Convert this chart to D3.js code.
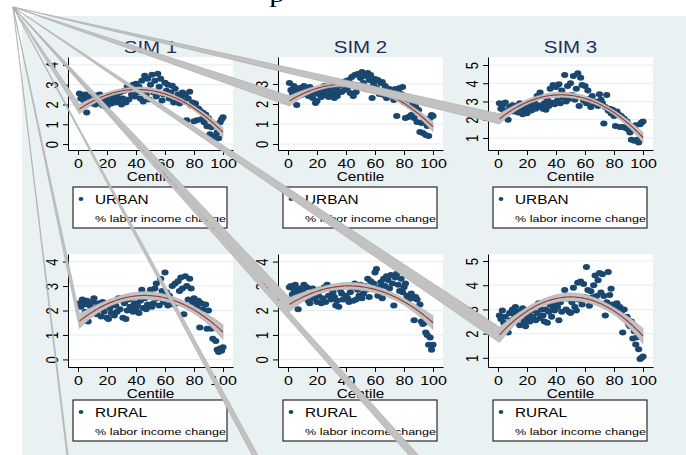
<!DOCTYPE html>
<html>
<head>
<meta charset="utf-8">
<script src="https://cdn.jsdelivr.net/npm/d3@7"></script>
<style>
  html, body { margin: 0; padding: 0; background: #fff; }
  svg { display: block; font-family: "Liberation Sans", Arial, sans-serif; }
</style>
</head>
<body>
<div id="chart"></div>
<script>
// ---- data ----
const centiles = d3.range(1, 101);
const simTitles = ["SIM 1", "SIM 2", "SIM 3"];
const groups = ["URBAN", "RURAL"];
const legendNote = "% labor income change";
const xTicks = [0, 20, 40, 60, 80, 100];
const urbanYTicks = [[0, 1, 2, 3, 4], [0, 1, 2, 3], [1, 2, 3, 4, 5]];
const ruralYTicks = [[0, 1, 2, 3, 4], [0, 1, 2, 3, 4], [1, 2, 3, 4, 5]];

const urbanSim1 = [
  2.55, 2.3, 2.45, 2.2, 2.5, 1.6, 2.35, 2.1, 2.4, 2.05,
  2.3, 2.0, 2.45, 2.15, 2.5, 2.2, 1.95, 2.35, 2.1, 1.9,
  2.2, 2.4, 2.05, 2.3, 2.5, 2.1, 2.4, 2.2, 2.6, 2.0,
  2.3, 2.7, 2.1, 2.9, 2.25, 2.8, 2.5, 3.0, 2.4, 3.05,
  2.6, 2.9, 2.3, 3.2, 2.15, 3.45, 2.5, 3.3, 2.25, 3.0,
  3.5, 2.6, 3.2, 2.4, 3.55, 2.9, 3.3, 2.2, 2.5, 3.1,
  2.7, 3.0, 2.3, 2.6, 2.95, 2.1, 2.8, 2.3, 2.5, 2.05,
  2.4, 2.6, 2.2, 2.5, 1.2, 2.3, 2.65, 1.95, 2.1, 1.15,
  2.05, 1.2, 1.8, 1.7, 1.25, 1.6, 1.1, 1.5, 0.9, 1.3,
  0.5, 0.85, 0.4, 1.0, 0.35, 0.6, 0.3, 1.1, 1.25, 1.35
];
const urbanSim2 = [
  3.05, 2.7, 2.55, 2.9, 2.75, 1.95, 2.6, 2.8, 2.45, 2.7,
  2.9, 2.5, 2.65, 2.4, 2.85, 2.6, 2.3, 2.55, 2.05, 2.15,
  2.5, 2.75, 2.35, 2.6, 2.9, 2.45, 2.7, 2.35, 2.8, 2.5,
  2.55, 2.3, 2.8, 2.4, 2.65, 2.95, 2.6, 3.1, 2.7, 3.15,
  2.8, 3.2, 2.55, 3.35, 2.4, 3.45, 2.6, 3.5, 2.9, 3.3,
  3.6, 3.05, 3.4, 2.75, 3.55, 3.2, 3.45, 2.3, 3.0, 3.25,
  2.8, 3.2, 2.5, 3.05, 3.1, 2.45, 2.9, 2.3, 2.6, 2.75,
  2.7, 2.5, 2.2, 2.75, 1.4, 2.7, 2.8, 2.5, 2.85, 2.1,
  1.3, 2.35, 1.35, 2.2, 1.45, 2.0, 1.3, 1.85, 1.1, 1.7,
  0.6, 1.05, 0.55, 1.2, 0.45, 0.9, 0.4, 1.3, 1.45, 1.4
];
const urbanSim3 = [
  2.9, 2.6, 2.8, 2.5, 2.95, 2.35, 2.0, 2.7, 2.55, 2.8,
  2.45, 2.75, 2.6, 2.4, 2.9, 2.55, 2.3, 2.7, 2.45, 2.35,
  2.6, 2.85, 2.5, 2.75, 2.95, 2.6, 3.3, 2.8, 3.5, 2.7,
  2.6, 2.9, 2.55, 3.1, 2.75, 3.7, 2.95, 3.9, 2.85, 3.8,
  3.05, 3.95, 2.9, 3.6, 3.2, 4.45, 3.0, 3.85, 3.15, 4.0,
  3.35, 4.4, 3.1, 3.7, 4.55, 2.75, 4.3, 3.9, 3.05, 3.85,
  2.9, 3.6, 3.15, 2.7, 3.3, 2.95, 3.0, 2.85, 2.75, 3.4,
  3.1, 2.9, 1.8, 2.7, 3.35, 2.5, 2.6, 2.35, 2.55, 2.2,
  1.65, 2.45, 2.3, 1.6, 2.2, 1.6, 2.05, 1.55, 1.9, 1.45,
  1.3, 0.9, 1.5, 0.85, 1.7, 0.9, 0.75, 1.75, 1.85, 1.9
];
const ruralSim1 = [
  2.3, 2.15, 2.45, 2.25, 1.95, 2.4, 1.55, 2.2, 2.0, 2.35,
  2.5, 2.1, 1.85, 2.3, 2.15, 1.75, 2.35, 1.95, 2.2, 1.7,
  1.65, 2.1, 1.9, 2.3, 1.8, 2.2, 1.95, 2.5, 2.05, 2.45,
  1.7, 2.3, 1.65, 2.0, 2.45, 2.15, 2.55, 1.95, 2.3, 2.05,
  2.2, 1.9, 2.4, 2.85, 2.1, 2.5, 2.05, 2.25, 2.6, 2.85,
  2.15, 2.3, 2.9, 3.1, 2.5, 2.2, 3.3, 2.8, 2.35, 3.55,
  2.75, 2.2, 2.6, 2.4, 3.0, 2.25, 3.1, 2.3, 3.2, 2.8,
  3.35, 2.9, 1.85, 3.4, 3.0, 2.45, 3.3, 2.9, 2.35, 2.5,
  2.3, 2.15, 2.4, 1.3, 2.3, 2.05, 1.75, 2.25, 1.25, 2.0,
  1.6, 1.25, 0.85, 1.5, 0.75, 0.4, 0.3, 0.45, 0.35, 0.5
];
const ruralSim2 = [
  2.95, 3.0, 2.65, 2.85, 3.05, 2.7, 2.05, 2.9, 2.55, 2.8,
  3.05, 2.7, 2.95, 2.4, 2.3, 2.65, 2.9, 2.5, 2.75, 2.35,
  2.6, 2.85, 2.3, 2.5, 2.95, 2.35, 3.05, 2.6, 2.9, 2.45,
  2.75, 2.55, 2.2, 2.4, 2.15, 2.85, 2.7, 2.45, 3.0, 2.6,
  2.5, 2.35, 2.75, 2.95, 2.4, 3.1, 2.45, 2.85, 2.6, 3.05,
  2.5, 2.7, 3.0, 2.85, 3.3, 2.55, 3.2, 2.9, 3.1, 3.55,
  3.7, 2.6, 2.95, 3.15, 2.5, 3.3, 3.0, 3.4, 3.25, 2.9,
  3.45, 3.1, 2.2, 3.35, 3.5, 3.05, 2.8, 3.3, 2.75, 2.95,
  3.1, 2.6, 2.45, 2.55, 2.7, 2.5, 1.6, 2.55, 2.45, 2.0,
  2.25, 1.55, 1.45, 1.5, 1.1, 1.0, 0.6, 0.9, 0.4, 0.6
];
const ruralSim3 = [
  2.75, 2.6, 2.95, 2.45, 2.7, 2.3, 2.05, 2.85, 2.55, 3.0,
  2.8, 3.1, 2.6, 2.9, 2.35, 2.75, 3.05, 2.5, 2.3, 2.65,
  2.85, 2.5, 2.95, 2.7, 3.1, 2.55, 2.85, 3.25, 2.65, 3.0,
  2.75, 2.5, 3.0, 2.45, 2.9, 3.2, 2.7, 3.05, 2.95, 3.2,
  3.1, 2.55, 3.3, 2.9, 3.5, 3.8, 3.0, 3.45, 2.9, 2.85,
  3.3, 3.9, 3.1, 2.95, 4.1, 3.4, 4.15, 3.2, 4.05, 3.5,
  4.75, 3.8, 3.15, 3.75, 3.5, 4.0, 4.4, 3.55, 4.2, 4.5,
  3.7, 4.45, 3.55, 2.75, 3.3, 4.55, 3.6, 3.85, 3.2, 3.0,
  3.1, 3.25, 2.95, 3.1, 2.9, 2.05, 3.0, 2.6, 2.7, 2.4,
  2.3, 2.5, 1.8, 2.1, 1.55, 1.85, 1.35, 0.95, 1.0, 1.05
];

const seriesByGroup = [
  [urbanSim1, urbanSim2, urbanSim3],
  [ruralSim1, ruralSim2, ruralSim3]
];
const yTicksByGroup = [urbanYTicks, ruralYTicks];

// ---- layout ----
const W = 686, H = 455;
const SX = 1.28;              // the source graph is stretched sideways
const anchor = [13, 7];       // stray vertex the ci bands were drawn from
const colAxisX = [68, 278, 488];
const plotW = 165;
const xDomain = [-6.9, 106.9];
const rows = [
  { top: 57, bottom: 150, legendTop: 187, yDomains: [[-0.3, 4.4], [-0.3, 4.35], [0.34, 5.44]] },
  { top: 254, bottom: 367, legendTop: 400, yDomains: [[-0.31, 4.31], [-0.31, 4.31], [0.62, 5.29]] }
];
const navy = "#1a476f", maroon = "#9e3a3a", bandFill = "#c2c2c2", bandEdge = "#a9a9a9";

const svg = d3.select("#chart").append("svg")
  .attr("width", W).attr("height", H);

svg.append("rect")
  .attr("x", 22).attr("y", 16)
  .attr("width", W - 22).attr("height", H - 16)
  .attr("fill", "#eaf1f3");

// caption line of the page, mostly above the frame
svg.append("text")
  .attr("transform", `translate(277,2) scale(${SX},1)`)
  .attr("text-anchor", "middle")
  .style("font-family", "'Liberation Serif', serif")
  .style("font-size", "24px")
  .text("p");

// quadratic fit with 95% ci of the mean, like qfitci
function quadFit(xs, ys) {
  const S = [[0, 0, 0], [0, 0, 0], [0, 0, 0]], b = [0, 0, 0];
  const basis = x => { const u = x / 100; return [1, u, u * u]; };
  xs.forEach((x, i) => {
    const v = basis(x);
    for (let j = 0; j < 3; j++) {
      b[j] += v[j] * ys[i];
      for (let k = 0; k < 3; k++) S[j][k] += v[j] * v[k];
    }
  });
  const [a, bb, c] = S[0], [d, e, f] = S[1], [g, h, i] = S[2];
  const det = a * (e * i - f * h) - bb * (d * i - f * g) + c * (d * h - e * g);
  const inv = [
    [(e * i - f * h) / det, -(bb * i - c * h) / det, (bb * f - c * e) / det],
    [-(d * i - f * g) / det, (a * i - c * g) / det, -(a * f - c * d) / det],
    [(d * h - e * g) / det, -(a * h - bb * g) / det, (a * e - bb * d) / det]
  ];
  const coef = inv.map(r => r[0] * b[0] + r[1] * b[1] + r[2] * b[2]);
  const predict = x => { const v = basis(x); return coef[0] * v[0] + coef[1] * v[1] + coef[2] * v[2]; };
  const sse = d3.sum(xs, (x, k) => (ys[k] - predict(x)) ** 2);
  const s2 = sse / (xs.length - 3);
  const t = 1.985;
  return xs.map(x => {
    const v = basis(x);
    let q = 0;
    for (let j = 0; j < 3; j++) for (let k = 0; k < 3; k++) q += v[j] * inv[j][k] * v[k];
    const yhat = predict(x), half = t * Math.sqrt(s2 * q);
    return { x, y: yhat, lo: yhat - half, hi: yhat + half };
  });
}

function stretched(sel, x, y, extra) {
  return sel.attr("transform", `translate(${x},${y}) scale(${SX},1)${extra || ""}`);
}

function drawPanel(r, c) {
  const row = rows[r];
  const ax = colAxisX[c];
  const values = seriesByGroup[r][c];
  const ticks = yTicksByGroup[r][c];
  const g = svg.append("g");

  const x = d3.scaleLinear().domain(xDomain).range([ax, ax + plotW]);
  const y = d3.scaleLinear().domain(row.yDomains[c]).range([row.bottom, row.top]);

  g.append("rect")
    .attr("x", ax).attr("y", row.top)
    .attr("width", plotW).attr("height", row.bottom - row.top)
    .attr("fill", "#fff");

  if (r === 0) {
    stretched(g.append("text"), ax + plotW / 2, 53)
      .attr("text-anchor", "middle")
      .attr("fill", "#1f3057")
      .style("font-size", "16px")
      .text(simTitles[c]);
  }

  g.append("g").selectAll("line")
    .data(ticks)
    .join("line")
    .attr("x1", ax).attr("x2", ax + plotW)
    .attr("y1", d => y(d)).attr("y2", d => y(d))
    .attr("stroke", "#e3ecef").attr("stroke-width", 1);

  const yAxis = g.append("g")
    .attr("transform", `translate(${ax},0)`)
    .call(d3.axisLeft(y).tickValues(ticks).tickSize(5).tickSizeOuter(0).tickFormat(d3.format("d")));
  yAxis.attr("font-family", null).attr("font-size", null);
  yAxis.selectAll(".domain, line").attr("stroke", "#000");
  yAxis.selectAll("text")
    .attr("x", null)
    .attr("dy", "0.36em")
    .attr("text-anchor", "middle")
    .attr("fill", "#000")
    .style("font-size", "13px")
    .attr("transform", `translate(-16,0) scale(${SX},1) rotate(-90)`);

  const xAxis = g.append("g")
    .attr("transform", `translate(0,${row.bottom})`)
    .call(d3.axisBottom(x).tickValues(xTicks).tickSize(5).tickSizeOuter(0));
  xAxis.attr("font-family", null).attr("font-size", null);
  xAxis.selectAll(".domain, line").attr("stroke", "#000");
  xAxis.selectAll("text")
    .attr("y", null).attr("dy", null)
    .attr("fill", "#000")
    .style("font-size", "12.5px")
    .attr("transform", `translate(0,18) scale(${SX},1)`);

  stretched(g.append("text"), ax + plotW / 2, row.bottom + 31)
    .attr("text-anchor", "middle")
    .style("font-size", "12px")
    .text("Centile");

  g.append("g").selectAll("ellipse")
    .data(values)
    .join("ellipse")
    .attr("cx", (d, i) => x(centiles[i]))
    .attr("cy", d => y(d))
    .attr("rx", 3.6).attr("ry", 3.0)
    .attr("fill", navy);

  const fit = quadFit(centiles, values);
  const upper = fit.map(p => [x(p.x), y(p.hi)]);
  const lower = fit.map(p => [x(p.x), y(p.lo)]).reverse();
  g.append("path")
    .attr("d", d3.line()([anchor, ...upper, ...lower]) + "Z")
    .attr("fill", bandFill)
    .attr("stroke", bandEdge)
    .attr("stroke-width", 0.6);

  g.append("path")
    .attr("d", d3.line().x(p => x(p.x)).y(p => y(p.y))(fit))
    .attr("fill", "none")
    .attr("stroke", maroon)
    .attr("stroke-width", 1.2);

  const lx = ax + 5, ly = row.legendTop;
  g.append("rect")
    .attr("x", lx).attr("y", ly)
    .attr("width", 154).attr("height", 41)
    .attr("fill", "#fff").attr("stroke", "#000").attr("stroke-width", 1);
  g.append("ellipse")
    .attr("cx", lx + 8).attr("cy", ly + 12)
    .attr("rx", 2.4).attr("ry", 2.0)
    .attr("fill", navy);
  stretched(g.append("text"), lx + 22, ly + 16.5)
    .style("font-size", "12px")
    .text(groups[r]);
  stretched(g.append("text"), lx + 22, ly + 34.5)
    .style("font-size", "9.8px")
    .text(legendNote);
}

groups.forEach((grp, r) => simTitles.forEach((t, c) => drawPanel(r, c)));

// bands of a third row of panels that falls below the visible frame
const offFrameBandEnds = [
  [[78, 536], [78, 548]],
  [[290, 514], [290, 526]],
  [[498, 543], [498, 556]]
];
svg.append("g").selectAll("path")
  .data(offFrameBandEnds)
  .join("path")
  .attr("d", d => d3.line()([anchor, d[0], d[1]]) + "Z")
  .attr("fill", bandFill)
  .attr("stroke", bandEdge)
  .attr("stroke-width", 0.6);
</script>
</body>
</html>
